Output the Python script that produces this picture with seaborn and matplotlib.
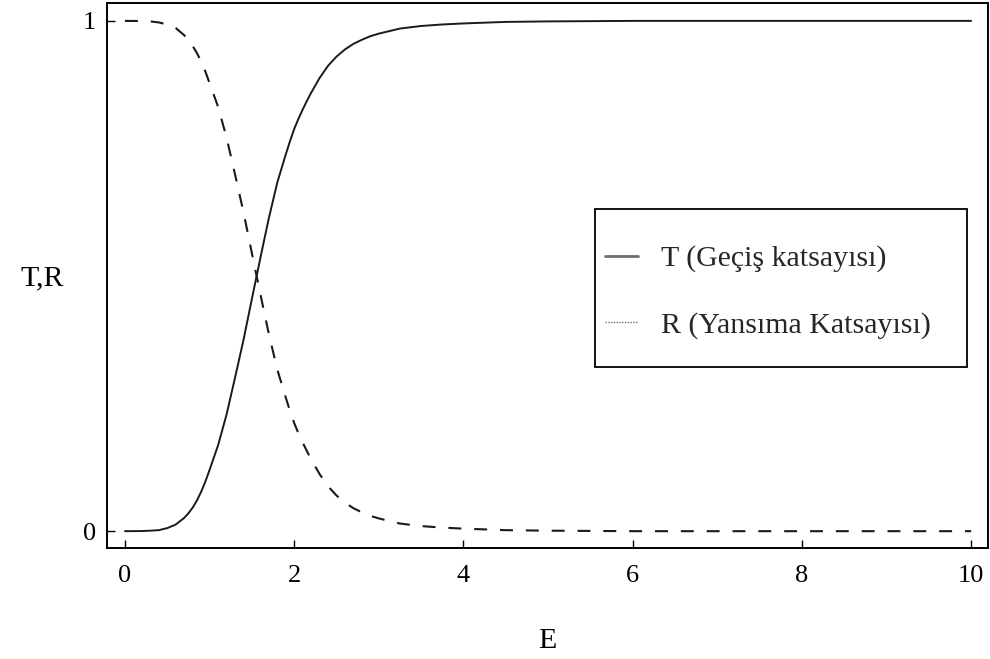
import matplotlib
matplotlib.use("Agg")
import matplotlib.pyplot as plt
from matplotlib.lines import Line2D
from matplotlib.patches import Rectangle
import pandas as pd
import seaborn as sns

# Energy grid and the transmission / reflection coefficients
energy = [0, 0.2, 0.3, 0.4, 0.5, 0.6, 0.7, 0.75, 0.8, 0.85, 0.9, 0.95, 1.0,
          1.1, 1.2, 1.3, 1.4, 1.5, 1.6, 1.7, 1.8, 1.9, 1.95, 2.0, 2.05, 2.1,
          2.15, 2.2, 2.3, 2.4, 2.5, 2.6, 2.7, 2.8, 2.9, 3.0, 3.1, 3.25, 3.5,
          3.75, 4.0, 4.5, 5.0, 6.0, 7.0, 8.0, 9.0, 10.0]
trans = [0, 0.0003, 0.001, 0.002, 0.006, 0.013, 0.026, 0.035, 0.046, 0.060,
         0.077, 0.097, 0.12, 0.168, 0.228, 0.30, 0.374, 0.455, 0.535, 0.613,
         0.683, 0.738, 0.764, 0.788, 0.808, 0.826, 0.843, 0.859, 0.888,
         0.912, 0.930, 0.944, 0.955, 0.963, 0.970, 0.975, 0.979, 0.985,
         0.990, 0.993, 0.995, 0.998, 0.999, 1.0, 1.0, 1.0, 1.0, 1.0]
refl = [1.0, 0.9997, 0.999, 0.997, 0.993, 0.986, 0.972, 0.962, 0.951, 0.937,
        0.921, 0.901, 0.878, 0.832, 0.772, 0.70, 0.626, 0.545, 0.465, 0.387,
        0.317, 0.262, 0.236, 0.212, 0.192, 0.174, 0.157, 0.141, 0.112,
        0.088, 0.070, 0.056, 0.045, 0.037, 0.030, 0.025, 0.021, 0.015,
        0.010, 0.007, 0.005, 0.002, 0.001, 0.0, 0.0, 0.0, 0.0, 0.0]

x_ticks = [0, 2, 4, 6, 8, 10]
y_ticks = [0, 1]
legend_labels = ["T (Geçiş katsayısı)", "R (Yansıma Katsayısı)"]

df = pd.DataFrame({"E": energy, "T": trans, "R": refl})

sns.set_theme(style="white")
plt.rcParams["font.family"] = ["Liberation Serif", "DejaVu Serif"]
TICK_FS = 19
LABEL_FS = 21.5

fig = plt.figure(figsize=(9.9, 6.59), dpi=100)
ax = fig.add_axes([0.108, 0.1684, 0.890, 0.827])

sns.lineplot(data=df, x="E", y="T", ax=ax, color="#1a1a1a", linewidth=1.4,
             estimator=None, sort=False)
sns.lineplot(data=df, x="E", y="R", ax=ax, color="#1a1a1a", linewidth=1.5,
             linestyle=(0, (6.2, 6.2)), estimator=None, sort=False)

ax.set_xlim(-0.213, 10.2)
ax.set_ylim(-0.033, 1.035)
ax.set_xticks(x_ticks)
ax.set_xticklabels([str(v) for v in x_ticks])
ax.set_yticks(y_ticks)
ax.set_yticklabels([str(v) for v in y_ticks])
ax.tick_params(axis="both", direction="in", length=6, width=1.0,
               colors="black", labelsize=TICK_FS, bottom=True, left=True,
               top=False, right=False)
ax.tick_params(axis="x", pad=12)
ax.tick_params(axis="y", pad=8)
for sp in ax.spines.values():
    sp.set_color("black")
    sp.set_linewidth(1.4)

ax.set_xlabel("E", fontsize=LABEL_FS, color="black", va="center")
ax.set_ylabel("T,R", fontsize=LABEL_FS, color="black", rotation=0,
              ha="center", va="center")
ax.xaxis.set_label_coords(0.4995, -0.170)
ax.yaxis.set_label_coords(-0.073, 0.495)

# Legend box and entries
ax.add_patch(Rectangle((0.554, 0.332), 0.422, 0.290, transform=ax.transAxes,
                       facecolor="white", edgecolor="black", linewidth=1.3,
                       zorder=4))
handles = [Line2D([], [], color="#6e6e6e", linewidth=2.0),
           Line2D([], [], color="#6e6e6e", linewidth=1.0,
                  linestyle=(0, (1, 1)))]
leg = ax.legend(handles, legend_labels, loc="center left",
                bbox_to_anchor=(0.565, 0.470), frameon=False,
                fontsize=LABEL_FS, handlelength=1.1, handletextpad=0.8,
                labelspacing=1.3, borderpad=0, borderaxespad=0)
leg.set_zorder(5)

fig.savefig("out.png", dpi=100)
